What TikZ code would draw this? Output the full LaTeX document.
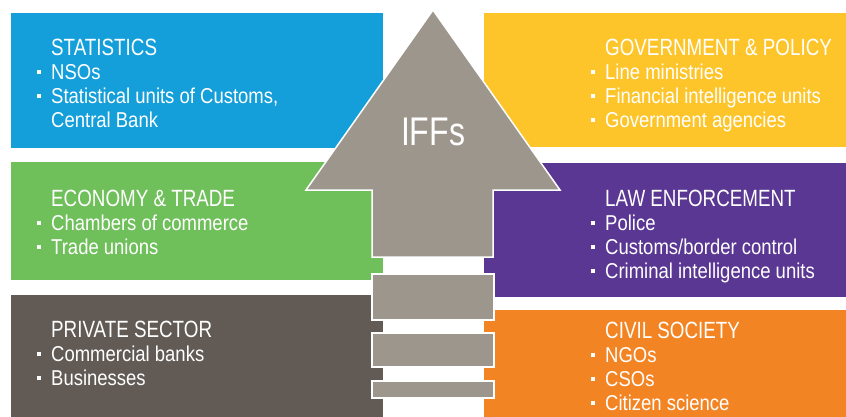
\documentclass[tikz,border=0pt]{standalone}
\usepackage{fontspec}
\setmainfont[FakeStretch=0.86]{Liberation Sans}
\newfontfamily\headfont[FakeStretch=0.8]{Liberation Sans}
\definecolor{statblue}{HTML}{149FDA}
\definecolor{govyellow}{HTML}{FDC52A}
\definecolor{econgreen}{HTML}{6FBF5A}
\definecolor{privgrey}{HTML}{625B55}
\definecolor{lawpurple}{HTML}{5A3793}
\definecolor{civorange}{HTML}{F38423}
\definecolor{iffgrey}{HTML}{9D968C}
\newcommand{\sectorhead}[1]{\rule{0pt}{18pt}{\headfont\fontsize{23.5}{24}\selectfont #1}}
\newcommand{\sectoritem}{\\\llap{\rule[5pt]{4pt}{4pt}\hspace{10pt}}}

\begin{document}
\begin{tikzpicture}[x=1pt, y=-1pt, box/.style={rectangle, inner sep=0pt, outer sep=0pt}, txt/.style={anchor=north west, align=left, inner sep=0pt, text=white, font=\fontsize{21.5}{24}\selectfont}, bar/.style={rectangle, draw=white, fill=iffgrey, line width=1.5pt, inner sep=0pt, minimum width=122pt}, iff/.style={draw=white, fill=iffgrey, line width=1.5pt}]
        \useasboundingbox (0,0) rectangle (846,417);
        % boxes
        \node[box, fill=statblue, minimum width=372pt, minimum height=135pt] (stat) at (197,80.5) {};
        \node[box, fill=govyellow, minimum width=362pt, minimum height=134pt] (gov) at (665,80) {};
        \node[box, fill=econgreen, minimum width=372pt, minimum height=118pt] (econ) at (197,221) {};
        \node[box, fill=lawpurple, minimum width=362pt, minimum height=134pt] (law) at (665,230) {};
        \node[box, fill=privgrey, minimum width=372pt, minimum height=122pt] (priv) at (197,356) {};
        \node[box, fill=civorange, minimum width=362pt, minimum height=107pt] (civ) at (665,363.5) {};
        % texts
        \node[txt] (statText) at (51,37) {\sectorhead{STATISTICS}\sectoritem NSOs\sectoritem Statistical units of Customs,\\Central Bank};
        \node[txt] (govText) at (605,37) {\sectorhead{GOVERNMENT \& POLICY}\sectoritem Line ministries\sectoritem Financial intelligence units\sectoritem Government agencies};
        \node[txt] (econText) at (51,188) {\sectorhead{ECONOMY \& TRADE}\sectoritem Chambers of commerce\sectoritem Trade unions};
        \node[txt] (lawText) at (605,188) {\sectorhead{LAW ENFORCEMENT}\sectoritem Police\sectoritem Customs/border control\sectoritem Criminal intelligence units};
        \node[txt] (privText) at (51,319) {\sectorhead{PRIVATE SECTOR}\sectoritem Commercial banks\sectoritem Businesses};
        \node[txt] (civText) at (605,320) {\sectorhead{CIVIL SOCIETY}\sectoritem NGOs\sectoritem CSOs\sectoritem Citizen science};
        % arrow
        \draw[iff] (433,10) -- (560,190) -- (493,190) -- (493,257) -- (372,257) -- (372,190) -- (306,190) -- cycle;
        \node[anchor=base, inner sep=0pt, text=white, font=\headfont\fontsize{40}{40}\selectfont] (iffs) at (433,146) {IFFs};
        \node[bar, minimum height=46pt] (step1) at (433,297) {};
        \node[bar, minimum height=34pt] (step2) at (433,350) {};
        \node[bar, minimum height=17pt] (step3) at (433,389.5) {};
    \end{tikzpicture}
\end{document}
